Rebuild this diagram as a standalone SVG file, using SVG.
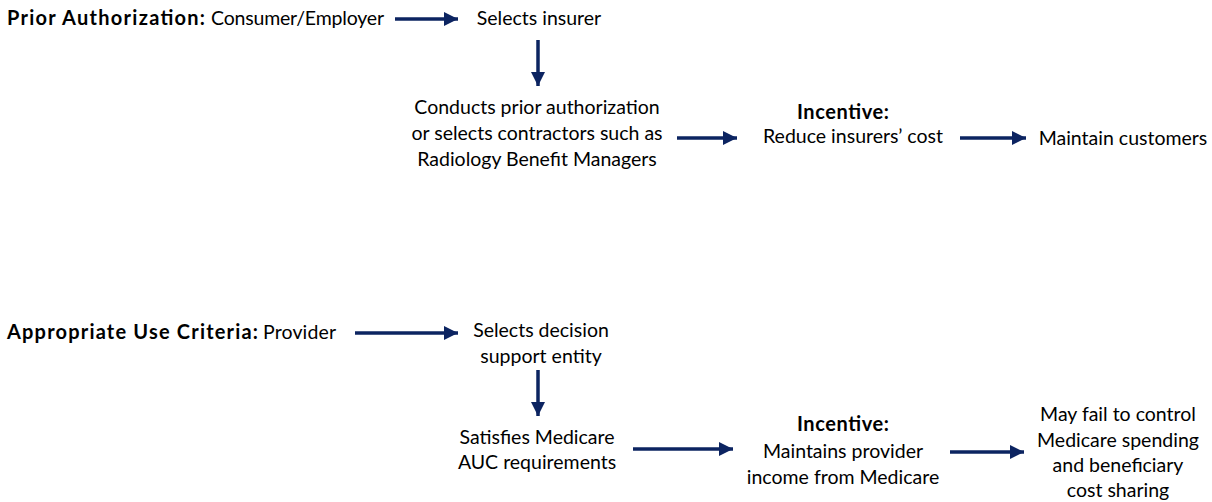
<svg xmlns="http://www.w3.org/2000/svg" width="1212" height="502" viewBox="0 0 1212 502">
<defs>
<marker id="ah" markerWidth="4" markerHeight="4" refX="4" refY="2" orient="auto" markerUnits="strokeWidth">
<path d="M0,0 L4,2 L0,4 Z" fill="#0c2461"/>
</marker>
<style>
text{font-family:Lato,"Open Sans",sans-serif;font-size:19.5px;fill:#000;}
.c{text-anchor:middle;}
.b{font-weight:bold;font-size:20px;}
.arr{stroke:#0c2461;stroke-width:3.5;fill:none;marker-end:url(#ah);}
</style>
</defs>
<rect width="1212" height="502" fill="#fff"/>
<g id="connectors">
<line class="arr" x1="395" y1="19" x2="458" y2="19"/>
<line class="arr" x1="538" y1="40" x2="538" y2="86"/>
<line class="arr" x1="677" y1="138" x2="737" y2="138"/>
<line class="arr" x1="960" y1="138" x2="1026" y2="138"/>
<line class="arr" x1="355" y1="333" x2="458" y2="333"/>
<line class="arr" x1="538" y1="370" x2="538" y2="416"/>
<line class="arr" x1="633" y1="449" x2="733" y2="449"/>
<line class="arr" x1="950" y1="452" x2="1024" y2="452"/>
</g>
<g id="n-prior"><text class="b" x="7" y="25" textLength="198" lengthAdjust="spacing">Prior Authorization:</text><text x="211" y="25" textLength="173" lengthAdjust="spacing">Consumer/Employer</text></g>
<g id="n-insurer"><text x="539" y="25" class="c">Selects insurer</text></g>
<g id="n-conducts"><text class="c" x="537" y="114">Conducts prior authorization</text><text class="c" x="537" y="140">or selects contractors such as</text><text class="c" x="537" y="166">Radiology Benefit Managers</text></g>
<g id="n-incentive1"><text class="c b" x="843" y="119" textLength="92" lengthAdjust="spacing">Incentive:</text><text class="c" x="853" y="143">Reduce insurers’ cost</text></g>
<g id="n-maintain"><text class="c" x="1123" y="145">Maintain customers</text></g>
<g id="n-auc"><text class="b" x="7" y="339" textLength="251" lengthAdjust="spacing">Appropriate Use Criteria:</text><text x="263" y="339" textLength="73" lengthAdjust="spacing">Provider</text></g>
<g id="n-decision"><text class="c" x="541" y="337">Selects decision</text><text class="c" x="541" y="363">support entity</text></g>
<g id="n-satisfies"><text class="c" x="537" y="444">Satisfies Medicare</text><text class="c" x="537" y="469">AUC requirements</text></g>
<g id="n-incentive2"><text class="c b" x="843" y="431" textLength="92" lengthAdjust="spacing">Incentive:</text><text class="c" x="843" y="458">Maintains provider</text><text class="c" x="843" y="484">income from Medicare</text></g>
<g id="n-fail"><text class="c" x="1118" y="421">May fail to control</text><text class="c" x="1118" y="447">Medicare spending</text><text class="c" x="1118" y="472">and beneficiary</text><text class="c" x="1118" y="497">cost sharing</text></g>
</svg>
